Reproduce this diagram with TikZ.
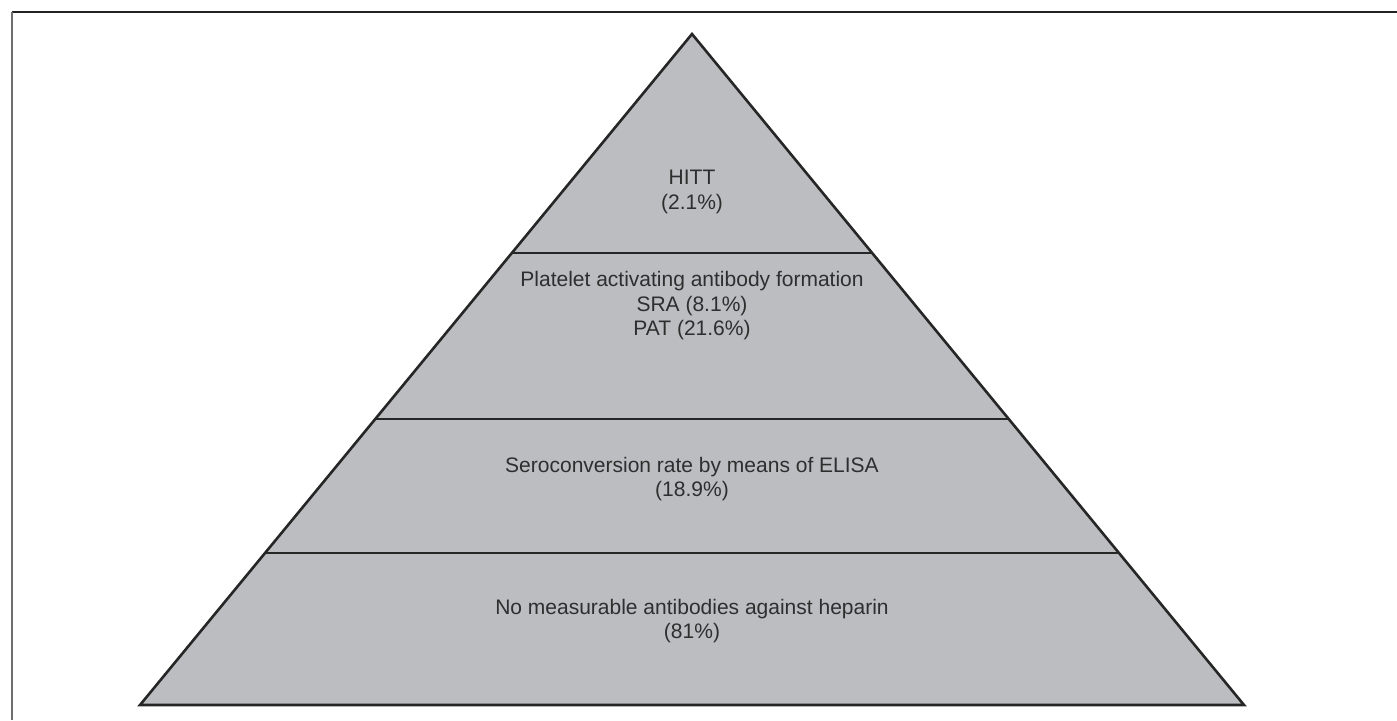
\documentclass[tikz,border=0pt]{standalone}
\usepackage{fontspec}
\setmainfont{Liberation Sans}
\usetikzlibrary{calc}
\definecolor{pyrfill}{HTML}{BCBDC1}
\definecolor{txtcol}{HTML}{2E2E2E}
\definecolor{frametop}{HTML}{222222}
\definecolor{frameleft}{HTML}{6E6E6E}
\tikzset{
  tier/.style={draw=black!85, line width=2.6pt},
  label/.style={align=center, text=txtcol, font=\fontsize{21}{24.5}\selectfont, inner sep=0pt}
}
\begin{document}
\begin{tikzpicture}[x=1pt,y=-1pt]
\useasboundingbox (0,0) rectangle (1397,720);
% frame lines
\draw[frametop, line width=2pt] (12,12) -- (1397,12);
\draw[frameleft, line width=2.2pt] (12,12) -- (12,720);
% pyramid
\coordinate (A) at (692,34);
\coordinate (L) at (140,705);
\coordinate (R) at (1244,705);
\fill[pyrfill] (A) -- (L) -- (R) -- cycle;
\coordinate (l1) at ($(A)!0.3264!(L)$);
\coordinate (r1) at ($(A)!0.3264!(R)$);
\coordinate (l2) at ($(A)!0.5738!(L)$);
\coordinate (r2) at ($(A)!0.5738!(R)$);
\coordinate (l3) at ($(A)!0.7735!(L)$);
\coordinate (r3) at ($(A)!0.7735!(R)$);
\draw[tier] (l1) -- (r1);
\draw[tier] (l2) -- (r2);
\draw[tier] (l3) -- (r3);
\draw[tier, line join=miter] (A) -- (L) -- (R) -- cycle;
% labels
\node[label] (t1) at (692,192) {HITT\\(2.1\%)};
\node[label] (t2) at (692,306) {Platelet activating antibody formation\\SRA (8.1\%)\\PAT (21.6\%)};
\node[label] (t3) at (692,479) {Seroconversion rate by means of ELISA\\(18.9\%)};
\node[label] (t4) at (692,621) {No measurable antibodies against heparin\\(81\%)};
\end{tikzpicture}
\end{document}
